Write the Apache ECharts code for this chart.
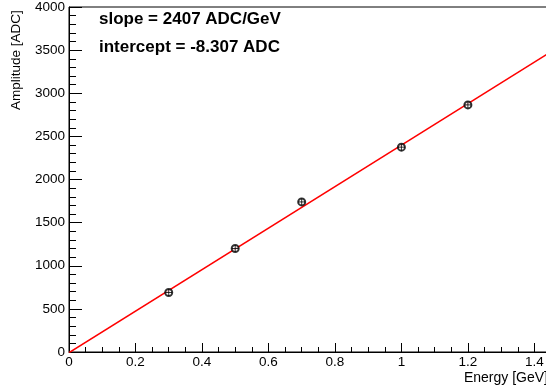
<!DOCTYPE html>
<html>
<head>
<meta charset="utf-8">
<script src="https://cdn.jsdelivr.net/npm/echarts@6/dist/echarts.min.js"></script>
<style>
  html, body { margin: 0; padding: 0; background: #fff; }
  #main { width: 546px; height: 389px; }
</style>
</head>
<body>
<div id="main"></div>
<script>
// measured points
var energy = [0.3, 0.5, 0.7, 1.0, 1.2];
var amplitude = [690, 1200, 1740, 2375, 2865];
// fit line end points
var fitX = [0, 1.45];
var fitY = [-8.3, 3482];
var fitText = ['slope = 2407 ADC/GeV', 'intercept = -8.307 ADC'];

var points = energy.map(function (e, i) { return [e, amplitude[i]]; });
var fitLine = fitX.map(function (x, i) { return [x, fitY[i]]; });

var font = '"Liberation Sans", Arial, sans-serif';

window.onload = function () {
  var myChart = echarts.init(document.getElementById('main'));

  var option = {
    animation: false,
    backgroundColor: '#fff',
    grid: {
      left: 69, top: 7, right: -5, bottom: 37,
      containLabel: false,
      outerBoundsMode: 'none',
      show: true, borderColor: '#000', borderWidth: 1
    },
    xAxis: {
      type: 'value',
      min: 0, max: 1.45, interval: 0.2,
      name: 'Energy [GeV]',
      nameLocation: 'end',
      nameGap: -3,
      nameTextStyle: {
        fontFamily: font, fontSize: 14, color: '#000',
        align: 'right', verticalAlign: 'top', padding: [19, 0, 0, 0]
      },
      axisLine: { lineStyle: { color: '#000', width: 1 } },
      axisTick: { inside: true, length: 9, lineStyle: { color: '#000' } },
      minorTick: { show: true, splitNumber: 4, length: 5, lineStyle: { color: '#000' } },
      axisLabel: {
        fontFamily: font, fontSize: 13.5, color: '#000', margin: 3,
        showMaxLabel: false
      },
      splitLine: { show: false }
    },
    yAxis: {
      type: 'value',
      min: 0, max: 4000, interval: 500,
      axisLine: { lineStyle: { color: '#000', width: 1 } },
      axisTick: { inside: true, length: 13, lineStyle: { color: '#000' } },
      minorTick: { show: true, splitNumber: 5, length: 7, lineStyle: { color: '#000' } },
      axisLabel: {
        fontFamily: font, fontSize: 13.5, color: '#000', margin: 4,
        formatter: function (v) { return String(v); }
      },
      splitLine: { show: false }
    },
    graphic: [
      {
        type: 'text', x: 9, y: 110, rotation: Math.PI / 2,
        style: { text: 'Amplitude [ADC]', font: '13.5px ' + font, fill: '#000' }
      },
      {
        type: 'text', left: 99, top: 11,
        style: { text: fitText[0], font: 'bold 17px ' + font, fill: '#000' }
      },
      {
        type: 'text', left: 99, top: 39,
        style: { text: fitText[1], font: 'bold 17px ' + font, fill: '#000' }
      }
    ],
    series: [
      {
        type: 'line',
        data: fitLine,
        showSymbol: false,
        clip: true,
        lineStyle: { color: '#ff0000', width: 1.5 },
        z: 2
      },
      {
        type: 'scatter',
        data: points,
        symbol: 'emptyCircle',
        symbolSize: 7,
        itemStyle: { color: '#000', borderColor: '#000', borderWidth: 1 },
        z: 3
      },
      {
        type: 'scatter',
        data: points,
        symbol: 'path://M0,5L10,5M5,0L5,10',
        symbolSize: 7,
        itemStyle: { color: 'none', borderColor: '#000', borderWidth: 1 },
        z: 4
      }
    ]
  };

  myChart.setOption(option);
};
</script>
</body>
</html>
